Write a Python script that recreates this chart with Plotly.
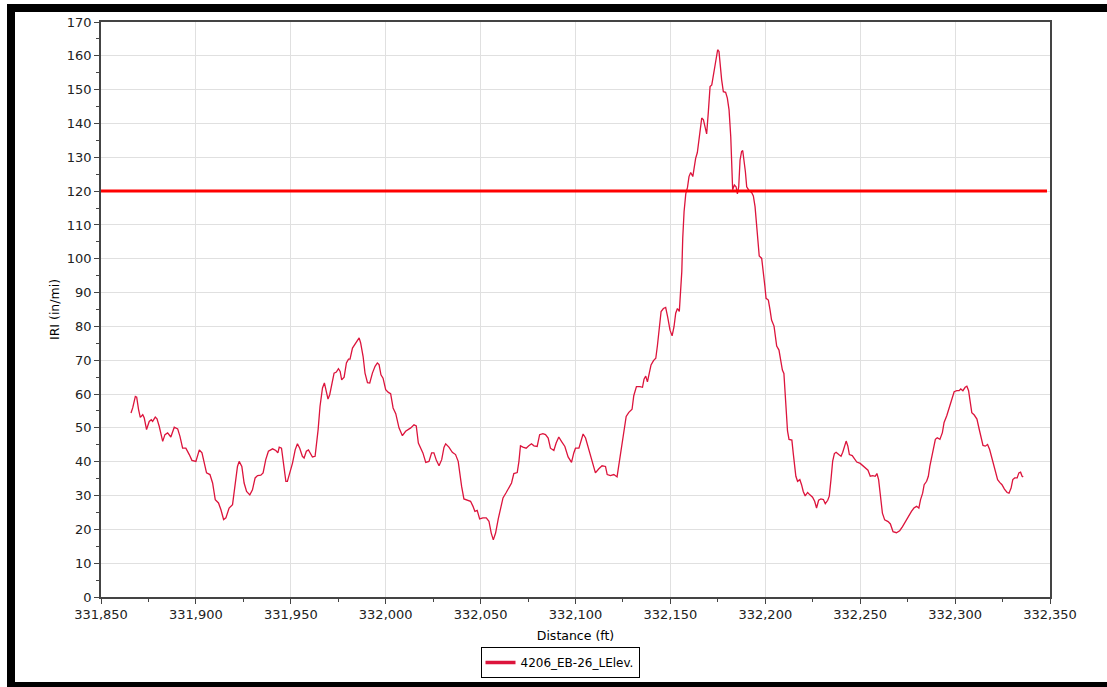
import plotly.graph_objects as go

# IRI profile along the section (distance in ft, IRI in in/mi)
distance_ft = [
    331865.8, 331866.7, 331868.1, 331868.8, 331869.8, 331870.7, 331872.0, 331872.8, 331874.0, 331875.4,
    331876.5, 331877.2, 331878.6, 331879.5, 331880.7, 331882.5, 331883.7, 331885.1, 331886.8, 331888.6,
    331890.4, 331891.6, 331893.0, 331894.7, 331896.5, 331897.9, 331900.0, 331901.8, 331903.2, 331904.4,
    331905.6, 331907.4, 331908.8, 331910.2, 331911.9, 331913.2, 331914.6, 331915.8, 331917.5, 331919.3,
    331920.7, 331921.9, 331922.8, 331924.2, 331925.4, 331926.7, 331928.4, 331929.8, 331931.2, 331932.5,
    331934.2, 331935.4, 331936.8, 331938.2, 331940.4, 331942.1, 331943.2, 331943.9, 331945.1, 331946.0,
    331947.4, 331948.2, 331949.5, 331950.9, 331952.3, 331953.5, 331954.7, 331956.1, 331957.0, 331958.2,
    331959.3, 331960.5, 331961.4, 331962.8, 331963.5, 331964.4, 331965.4, 331966.7, 331967.7, 331968.8,
    331969.6, 331970.5, 331971.6, 331972.8, 331974.0, 331975.1, 331976.0, 331976.8, 331978.1, 331979.3,
    331980.4, 331981.2, 331982.5, 331983.9, 331985.1, 331986.0, 331986.8, 331988.1, 331989.1, 331990.4,
    331991.6, 331993.0, 331994.4, 331995.6, 331996.5, 331997.5, 331998.6, 332000.0, 332001.4, 332002.6,
    332003.9, 332005.3, 332007.0, 332008.8, 332010.5, 332013.2, 332014.9, 332016.1, 332017.2, 332018.4,
    332019.6, 332021.1, 332022.8, 332024.2, 332025.4, 332026.7, 332028.1, 332029.5, 332030.7, 332031.6,
    332033.3, 332035.1, 332036.8, 332038.2, 332038.9, 332040.0, 332041.2, 332043.0, 332044.7, 332046.0,
    332047.0, 332048.2, 332049.5, 332051.2, 332053.0, 332054.4, 332055.6, 332056.7, 332057.9, 332059.3,
    332060.5, 332061.8, 332063.5, 332064.9, 332066.3, 332067.5, 332069.3, 332070.2, 332071.0, 332072.3,
    332074.0, 332075.4, 332076.8, 332078.1, 332079.8, 332081.1, 332082.8, 332084.2, 332085.6, 332086.8,
    332088.6, 332089.8, 332091.2, 332092.6, 332094.4, 332096.1, 332097.9, 332099.1, 332100.0, 332101.8,
    332102.6, 332104.0, 332105.3, 332106.7, 332107.9, 332109.1, 332110.5, 332112.3, 332114.0, 332115.8,
    332116.7, 332118.4, 332120.2, 332121.9, 332122.8, 332124.2, 332125.4, 332126.7, 332128.1, 332129.8,
    332130.7, 332132.1, 332134.0, 332135.3, 332136.1, 332137.0, 332137.9, 332138.9, 332139.8, 332141.1,
    332142.3, 332143.2, 332144.2, 332145.1, 332146.3, 332147.5, 332148.6, 332149.8, 332150.9, 332151.9,
    332152.8, 332153.7, 332154.7, 332155.4, 332156.0, 332156.5, 332157.2, 332158.1, 332159.0, 332159.8,
    332160.7, 332161.8, 332162.5, 332163.3, 332164.2, 332165.1, 332166.0, 332166.5, 332167.4, 332168.2,
    332169.1, 332170.0, 332170.9, 332171.8, 332172.6, 332173.5, 332174.4, 332174.9, 332175.6, 332176.1,
    332177.0, 332177.9, 332179.1, 332180.0, 332180.9, 332181.8, 332182.3, 332182.8, 332183.7, 332184.6,
    332185.3, 332186.0, 332186.7, 332187.5, 332188.1, 332188.8, 332189.5, 332190.2, 332191.4, 332192.8,
    332193.7, 332194.6, 332195.1, 332195.8, 332196.8, 332198.1, 332198.9, 332199.8, 332200.4, 332201.6,
    332202.5, 332203.3, 332204.6, 332205.4, 332206.0, 332207.2, 332208.1, 332209.0, 332209.8, 332210.8,
    332211.7, 332212.5, 332214.0, 332214.7, 332215.5, 332216.1, 332217.0, 332218.2, 332219.1, 332220.0,
    332221.0, 332222.3, 332223.5, 332224.9, 332226.0, 332227.0, 332228.1, 332229.3, 332230.6, 332231.6,
    332232.9, 332233.7, 332234.6, 332235.5, 332236.4, 332237.3, 332238.7, 332239.9, 332240.8, 332241.9,
    332242.6, 332243.5, 332244.3, 332245.8, 332247.0, 332248.2, 332250.0, 332251.4, 332252.8, 332254.1,
    332255.3, 332256.7, 332257.9, 332258.8, 332259.7, 332260.8, 332261.7, 332262.9, 332264.7, 332265.9,
    332267.3, 332269.1, 332270.8, 332272.3, 332273.5, 332274.7, 332275.8, 332277.0, 332278.3, 332279.7,
    332280.9, 332281.8, 332282.9, 332283.7, 332285.0, 332285.9, 332286.7, 332287.6, 332288.5, 332289.6,
    332290.6, 332292.0, 332293.3, 332294.2, 332295.6, 332297.0, 332298.2, 332299.5, 332300.9, 332302.1,
    332303.0, 332304.1, 332305.3, 332306.2, 332307.1, 332308.0, 332308.8, 332310.1, 332311.5, 332312.7,
    332313.6, 332314.7, 332315.9, 332317.1, 332318.2, 332319.1, 332320.3, 332321.6, 332322.4, 332323.5,
    332324.7, 332326.0, 332327.4, 332328.4, 332329.5, 332330.4, 332331.4, 332332.7, 332333.6, 332334.5,
    332335.3, 332335.9,
]

iri_in_per_mi = [
    54.4, 55.9, 59.3, 59.1, 55.4, 53.1, 53.9, 52.9, 49.5, 51.9,
    52.4, 51.9, 53.2, 52.7, 50.4, 46.0, 48.0, 48.5, 47.3, 50.2,
    49.7, 47.5, 44.0, 44.0, 42.1, 40.4, 40.1, 43.5, 42.6, 39.6,
    36.7, 36.2, 33.7, 28.8, 27.8, 25.8, 22.9, 23.4, 26.3, 27.3,
    32.7, 38.6, 40.1, 38.6, 33.7, 31.2, 30.2, 31.7, 35.2, 35.9,
    36.0, 36.7, 40.6, 43.1, 43.8, 43.3, 42.6, 44.3, 44.0, 39.6,
    34.2, 34.2, 36.7, 39.6, 43.5, 45.3, 44.0, 41.6, 41.1, 43.1,
    43.5, 42.1, 41.4, 41.6, 44.5, 49.5, 56.4, 61.8, 63.3, 59.8,
    58.5, 59.8, 63.3, 66.2, 66.5, 67.5, 66.7, 64.2, 65.0, 69.2,
    70.3, 70.3, 73.6, 74.9, 75.8, 76.6, 75.1, 71.1, 66.2, 63.4,
    63.3, 66.2, 68.2, 69.2, 68.7, 65.7, 64.7, 61.3, 60.5, 60.1,
    55.9, 54.2, 50.0, 47.7, 49.0, 50.0, 50.9, 50.6, 45.5, 44.0,
    42.6, 39.8, 40.1, 42.6, 42.6, 40.4, 38.8, 40.6, 44.2, 45.3,
    44.3, 42.8, 42.1, 40.1, 36.7, 32.7, 29.0, 28.6, 28.3, 26.8,
    25.3, 25.6, 23.1, 23.4, 23.4, 22.4, 18.9, 16.9, 18.9, 23.1,
    26.3, 29.3, 30.9, 32.2, 33.7, 36.5, 36.8, 40.1, 44.7, 44.3,
    44.0, 44.7, 45.3, 44.7, 44.5, 48.0, 48.3, 48.0, 47.0, 44.0,
    43.3, 45.5, 47.3, 46.0, 44.5, 41.4, 39.8, 42.6, 44.0, 44.0,
    45.5, 48.2, 47.0, 44.0, 42.1, 39.6, 36.7, 37.9, 38.8, 38.6,
    36.2, 35.9, 36.2, 35.5, 38.6, 43.5, 48.5, 53.4, 54.6, 55.5,
    59.5, 62.2, 62.2, 62.0, 64.4, 65.3, 63.6, 66.1, 68.6, 69.9,
    70.6, 74.5, 78.9, 84.4, 85.3, 85.6, 82.7, 78.9, 77.2, 79.9,
    83.9, 85.3, 84.4, 89.8, 96.2, 106.1, 113.9, 119.2, 121.1, 124.3,
    125.5, 124.3, 126.8, 129.7, 131.4, 135.1, 138.1, 141.6, 141.1, 138.6,
    136.9, 143.5, 150.9, 151.4, 153.9, 156.8, 159.3, 161.8, 161.3, 157.3,
    152.9, 149.4, 149.2, 147.5, 144.0, 136.1, 128.2, 120.4, 121.8, 121.3,
    119.2, 121.3, 129.2, 131.7, 132.0, 129.2, 125.8, 121.3, 120.2, 119.6,
    118.6, 115.4, 111.5, 105.6, 100.8, 100.1, 96.7, 91.8, 88.3, 87.8,
    84.9, 81.9, 80.1, 77.0, 74.2, 73.0, 70.1, 67.1, 66.1, 56.5,
    49.1, 46.6, 46.4, 42.6, 38.2, 35.7, 34.2, 34.7, 33.2, 31.2,
    29.9, 30.9, 30.2, 29.5, 28.3, 26.3, 28.6, 29.0, 28.8, 27.6,
    28.6, 29.8, 34.7, 40.2, 42.4, 42.8, 42.1, 41.6, 42.8, 44.6,
    46.1, 44.6, 42.1, 41.8, 40.9, 39.9, 39.5, 38.9, 38.2, 37.5,
    35.7, 35.9, 35.7, 36.5, 34.7, 28.8, 24.8, 22.8, 22.3, 21.6,
    19.3, 19.0, 19.6, 20.8, 22.0, 22.8, 24.3, 25.3, 26.3, 26.8,
    26.3, 28.8, 30.7, 33.2, 34.2, 35.7, 38.7, 40.9, 44.1, 46.6,
    47.1, 46.6, 48.6, 51.6, 53.6, 56.0, 58.0, 60.7, 61.0, 61.0,
    61.5, 61.0, 62.0, 62.3, 61.0, 57.5, 54.5, 53.8, 52.6, 49.6,
    47.1, 44.8, 44.6, 45.1, 43.6, 41.6, 38.7, 36.2, 34.7, 33.9,
    33.2, 31.9, 30.9, 30.7, 32.2, 34.7, 35.2, 35.2, 36.7, 36.9,
    35.7, 35.5,
]

series_name = "4206_EB-26_LElev."
threshold_iri = 120
x_range = [331850, 332350]
y_range = [0, 170]

FONT = "DejaVu Sans"
LINE_COLOR = "#dc143c"
W, H = 1107, 687
ML, MR, MT, MB = 101, 57, 22, 90
PW, PH = W - ML - MR, H - MT - MB


def px_x(px):
    return (px - ML) / PW


def px_y(py):
    return (H - MB - py) / PH


fig = go.Figure()

fig.add_trace(go.Scatter(
    x=distance_ft,
    y=iri_in_per_mi,
    mode="lines",
    name=series_name,
    showlegend=False,
    legendgroup="profile",
    line=dict(color=LINE_COLOR, width=1.3),
))

# legend entry with a heavier swatch for the profile series
fig.add_trace(go.Scatter(
    x=[None], y=[None],
    mode="lines",
    name=series_name,
    legendgroup="profile",
    line=dict(color=LINE_COLOR, width=3.5),
    hoverinfo="skip",
))

# threshold line across the plot area
fig.add_shape(type="line", xref="paper", yref="y",
              x0=0, x1=px_x(1047), y0=threshold_iri, y1=threshold_iri,
              line=dict(color="#ff0000", width=3), layer="above")

# black frame around the chart panel (top, left, bottom)
frame = "#000000"
fig.add_shape(type="rect", xref="paper", yref="paper",
              x0=px_x(7), x1=px_x(1107), y0=px_y(12), y1=px_y(4),
              line=dict(width=0), fillcolor=frame)
fig.add_shape(type="rect", xref="paper", yref="paper",
              x0=px_x(7), x1=px_x(15), y0=px_y(687), y1=px_y(4),
              line=dict(width=0), fillcolor=frame)
fig.add_shape(type="rect", xref="paper", yref="paper",
              x0=px_x(7), x1=px_x(1107), y0=px_y(687), y1=px_y(682),
              line=dict(width=0), fillcolor=frame)

axis_common = dict(
    showline=True, linecolor="#444444", linewidth=1.5, mirror=True,
    showgrid=True, gridcolor="#e0e0e0", gridwidth=1,
    zeroline=False,
    ticks="outside", ticklen=5, tickwidth=1, tickcolor="#444444",
    tickfont=dict(family=FONT, size=13, color="#222222"),
)

fig.update_xaxes(
    range=x_range, dtick=50, tick0=331850, tickformat=",d",
    minor=dict(dtick=25, ticks="outside", ticklen=3, tickcolor="#444444", showgrid=False),
    title=dict(text="Distance (ft)", font=dict(family=FONT, size=12.5, color="#000000"), standoff=10),
    **axis_common,
)
fig.update_yaxes(
    range=y_range, dtick=10, tick0=0,
    minor=dict(dtick=5, ticks="outside", ticklen=3, tickcolor="#444444", showgrid=False),
    title=dict(text="IRI (in/mi)", font=dict(family=FONT, size=12.5, color="#000000"), standoff=4),
    **axis_common,
)

fig.update_layout(
    width=W, height=H,
    margin=dict(l=ML, r=MR, t=MT, b=MB, autoexpand=False),
    paper_bgcolor="#ffffff",
    plot_bgcolor="#ffffff",
    showlegend=True,
    legend=dict(
        orientation="h",
        x=px_x(560), xanchor="center",
        y=px_y(647), yanchor="top",
        bordercolor="#000000", borderwidth=1,
        bgcolor="#ffffff",
        font=dict(family=FONT, size=12, color="#000000"),
        itemwidth=30,
        tracegroupgap=0,
    ),
)

fig.write_html("out.html")
